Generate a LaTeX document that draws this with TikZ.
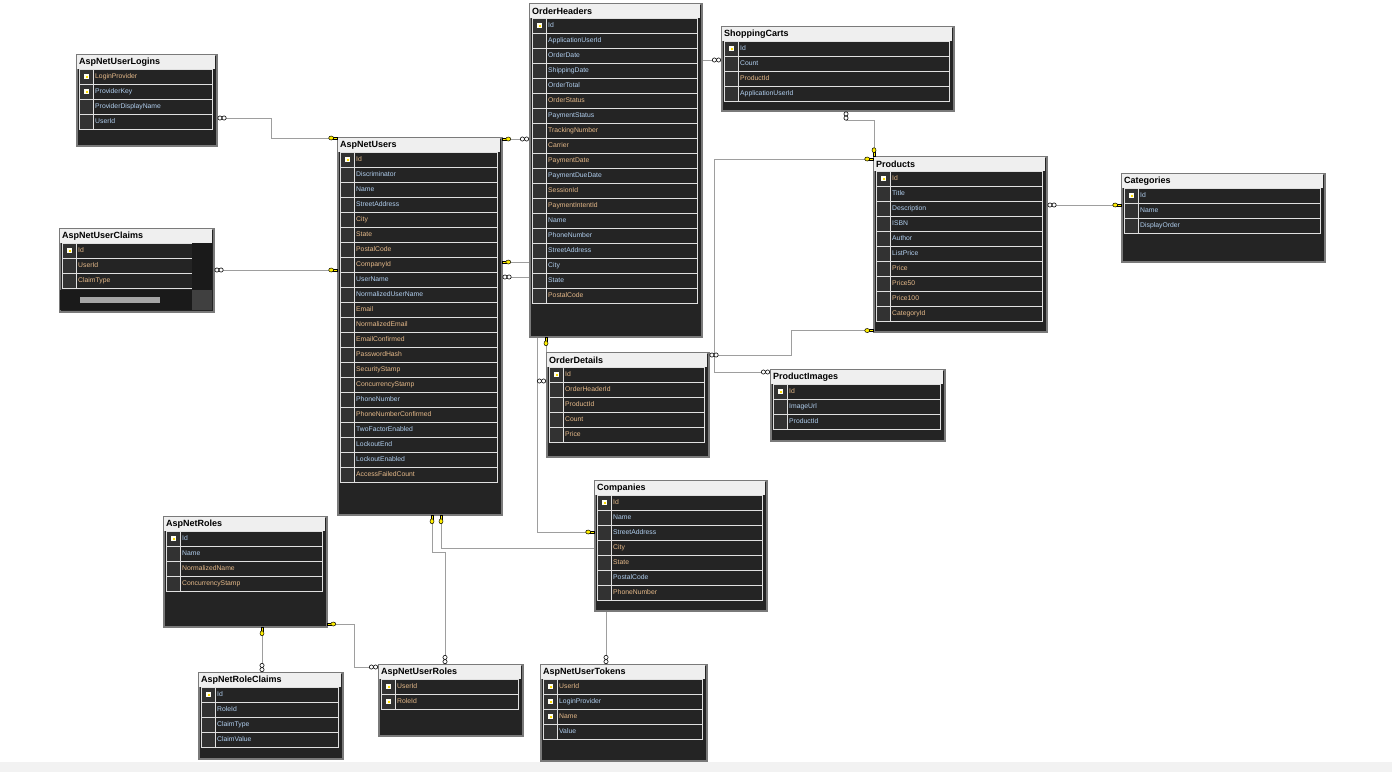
\documentclass[tikz,border=0pt]{standalone}
\usepackage{fontspec}
\setmainfont{Liberation Sans}
\usepackage{tikz}
\usetikzlibrary{calc, backgrounds}

\definecolor{framegray}{RGB}{122,122,122}
\definecolor{bodydark}{RGB}{36,36,36}
\definecolor{keycell}{RGB}{50,50,50}
\definecolor{titlebar}{RGB}{239,239,239}
\definecolor{connline}{RGB}{158,158,158}
\definecolor{fb}{RGB}{178,208,240}
\definecolor{fo}{RGB}{230,186,138}
\definecolor{keyyellow}{RGB}{255,238,0}
\definecolor{bandgray}{RGB}{242,242,242}
\definecolor{claimsdark}{RGB}{26,26,26}

% one database table: name, x, y, width, height, title, fields (name/pk/colour)
\newcommand{\dbtable}[7]{%
  \node[tablebox, minimum width=#4, minimum height=#5] (#1) at (#2,#3) {};
  \fill[titlebar] (#2+1,#3+1) rectangle (#2+#4-1,#3+15);
  \node[tabletitle] (#1-title) at (#2+3,#3+8) {#6};
  \foreach \fname/\fkey/\fcol [count=\i] in {#7} {
    \pgfmathsetmacro{\rtop}{#3+15+15*(\i-1)}
    \fill[keycell] (#2+3,\rtop) rectangle (#2+17,\rtop+15);
    \draw[rowgrid] (#2+3,\rtop) rectangle (#2+#4-4,\rtop+15);
    \draw[rowgrid] (#2+17,\rtop) -- (#2+17,\rtop+15);
    \ifnum\fkey=1
      \fill[pkicon] (#2+7.5,\rtop+5) rectangle (#2+12.5,\rtop+10);
      \fill[keyyellow!85!orange] (#2+10,\rtop+7) rectangle (#2+12,\rtop+9);
    \fi
    \node[fieldtext, text=\fcol] (#1-\i) at (#2+19,\rtop+7.5) {\fname};
  }
}

\begin{document}
\begin{tikzpicture}[
    x=1pt, y=-1pt,
    tablebox/.style={rectangle, anchor=north west, inner sep=0pt, draw=framegray, line width=1.5pt, fill=bodydark},
    tabletitle/.style={anchor=west, inner sep=0pt, text=black, font=\bfseries\fontsize{9}{10}\selectfont},
    fieldtext/.style={anchor=west, inner sep=0pt, font=\fontsize{6.8}{8}\selectfont},
    rowgrid/.style={draw=white!88!black, line width=0.8pt},
    pkicon/.style={fill=white!95!yellow},
    conn/.style={draw=connline, line width=1pt},
    keyend/.pic={
        \draw[black, line width=0.5pt, fill=keyyellow] (-3.6,-0.9) rectangle (0,0.9);
        \draw[black, line width=0.5pt, fill=keyyellow] (-5.8,0) ellipse (2.5 and 2);
    },
    manyend/.pic={
        \draw[black, line width=0.6pt, fill=white] (-2.4,0) circle (2.1);
        \draw[black, line width=0.6pt, fill=white] (-6.6,0) circle (2.1);
    }
]
    \useasboundingbox (0,0) rectangle (1392,772);

    % Tables
    \dbtable{logins}{76}{54}{140}{91}{AspNetUserLogins}{LoginProvider/1/fo, ProviderKey/1/fb, ProviderDisplayName/0/fb, UserId/0/fb}
    \dbtable{claims}{59}{228}{154}{83}{AspNetUserClaims}{Id/1/fo, UserId/0/fo, ClaimType/0/fo}
    \fill[claimsdark] (192,243) rectangle (212,290);
    \fill[claimsdark] (60,290) rectangle (192,310);
    \fill[black!75] (192,290) rectangle (212,310);
    \fill[black!35] (80,297) rectangle (160,303);
    \dbtable{users}{337}{137}{164}{377}{AspNetUsers}{Id/1/fo, Discriminator/0/fb, Name/0/fb, StreetAddress/0/fb, City/0/fo, State/0/fo, PostalCode/0/fo, CompanyId/0/fo, UserName/0/fb, NormalizedUserName/0/fb, Email/0/fo, NormalizedEmail/0/fo, EmailConfirmed/0/fo, PasswordHash/0/fo, SecurityStamp/0/fo, ConcurrencyStamp/0/fo, PhoneNumber/0/fb, PhoneNumberConfirmed/0/fo, TwoFactorEnabled/0/fb, LockoutEnd/0/fb, LockoutEnabled/0/fb, AccessFailedCount/0/fo}
    \dbtable{orders}{529}{3}{172}{333}{OrderHeaders}{Id/1/fb, ApplicationUserId/0/fb, OrderDate/0/fb, ShippingDate/0/fb, OrderTotal/0/fb, OrderStatus/0/fo, PaymentStatus/0/fb, TrackingNumber/0/fo, Carrier/0/fo, PaymentDate/0/fo, PaymentDueDate/0/fb, SessionId/0/fo, PaymentIntentId/0/fo, Name/0/fb, PhoneNumber/0/fb, StreetAddress/0/fb, City/0/fb, State/0/fb, PostalCode/0/fo}
    \dbtable{carts}{721}{26}{232}{84}{ShoppingCarts}{Id/1/fb, Count/0/fb, ProductId/0/fo, ApplicationUserId/0/fb}
    \dbtable{products}{873}{156}{173}{175}{Products}{Id/1/fo, Title/0/fb, Description/0/fb, ISBN/0/fb, Author/0/fb, ListPrice/0/fb, Price/0/fo, Price50/0/fo, Price100/0/fo, CategoryId/0/fo}
    \dbtable{categories}{1121}{173}{203}{88}{Categories}{Id/1/fb, Name/0/fb, DisplayOrder/0/fb}
    \dbtable{details}{546}{352}{162}{104}{OrderDetails}{Id/1/fo, OrderHeaderId/0/fo, ProductId/0/fo, Count/0/fo, Price/0/fo}
    \dbtable{images}{770}{369}{174}{71}{ProductImages}{Id/1/fo, ImageUrl/0/fb, ProductId/0/fb}
    \dbtable{companies}{594}{480}{172}{130}{Companies}{Id/1/fo, Name/0/fb, StreetAddress/0/fb, City/0/fo, State/0/fo, PostalCode/0/fb, PhoneNumber/0/fo}
    \dbtable{roles}{163}{516}{163}{110}{AspNetRoles}{Id/1/fb, Name/0/fb, NormalizedName/0/fo, ConcurrencyStamp/0/fo}
    \dbtable{roleclaims}{198}{672}{144}{86}{AspNetRoleClaims}{Id/1/fb, RoleId/0/fb, ClaimType/0/fb, ClaimValue/0/fb}
    \dbtable{userroles}{378}{664}{144}{71}{AspNetUserRoles}{UserId/1/fo, RoleId/1/fo}
    \dbtable{tokens}{540}{664}{166}{96}{AspNetUserTokens}{UserId/1/fo, LoginProvider/1/fb, Name/1/fo, Value/0/fb}

    % Connectors
    \begin{scope}[on background layer]
        \fill[bandgray] (0,762) rectangle (1392,772);
        \draw[conn] ([shift={(0,64)}]logins.north east) -- ++(54,0) |- ([shift={(0,1)}]users.north west);
        \draw[conn] ([shift={(0,42)}]claims.north east) -- ([shift={(0,133)}]users.north west);
        \draw[conn] ([shift={(0,2)}]users.north east) -- ([shift={(0,136)}]orders.north west);
        \draw[conn] ([shift={(0,125)}]users.north east) -- ++(114,0) |- ([shift={(0,34)}]carts.north west);
        \draw[conn] ([shift={(0,140)}]users.north east) -| ([shift={(-57,52)}]companies.north west) -- ([shift={(0,52)}]companies.north west);
        \draw[conn] ([shift={(17,0)}]orders.south west) -- ([shift={(0,29)}]details.north west);
        \draw[conn] ([shift={(125,0)}]carts.south west) -- ++(0,9) -| ([shift={(1,0)}]products.north west);
        \draw[conn] ([shift={(0,3)}]images.north west) -- ++(-56,0) |- ([shift={(0,3)}]products.north west);
        \draw[conn] ([shift={(0,3)}]details.north east) -- ++(82,0) |- ([shift={(0,-2)}]products.south west);
        \draw[conn] ([shift={(0,49)}]products.north east) -- ([shift={(0,32)}]categories.north west);
        \draw[conn] ([shift={(95,0)}]users.south west) -- ++(0,37) -| ([shift={(67,0)}]userroles.north west);
        \draw[conn] ([shift={(104,0)}]users.south west) -- ++(0,33) -| ([shift={(66,0)}]tokens.north west);
        \draw[conn] ([shift={(99,0)}]roles.south west) -- ([shift={(64,0)}]roleclaims.north west);
        \draw[conn] ([shift={(0,108)}]roles.north east) -- ++(27,0) |- ([shift={(0,3)}]userroles.north west);
    \end{scope}

    % Relationship ends
    \pic[rotate=180] at ([shift={(0,64)}]logins.north east) {manyend};
    \pic at ([shift={(0,1)}]users.north west) {keyend};
    \pic[rotate=180] at ([shift={(0,42)}]claims.north east) {manyend};
    \pic at ([shift={(0,133)}]users.north west) {keyend};
    \pic[rotate=180] at ([shift={(0,2)}]users.north east) {keyend};
    \pic at ([shift={(0,136)}]orders.north west) {manyend};
    \pic[rotate=180] at ([shift={(0,125)}]users.north east) {keyend};
    \pic at ([shift={(0,34)}]carts.north west) {manyend};
    \pic[rotate=180] at ([shift={(0,140)}]users.north east) {manyend};
    \pic at ([shift={(0,52)}]companies.north west) {keyend};
    \pic[rotate=90] at ([shift={(17,0)}]orders.south west) {keyend};
    \pic at ([shift={(0,29)}]details.north west) {manyend};
    \pic[rotate=90] at ([shift={(125,0)}]carts.south west) {manyend};
    \pic[rotate=-90] at ([shift={(1,0)}]products.north west) {keyend};
    \pic at ([shift={(0,3)}]images.north west) {manyend};
    \pic at ([shift={(0,3)}]products.north west) {keyend};
    \pic[rotate=180] at ([shift={(0,3)}]details.north east) {manyend};
    \pic at ([shift={(0,-2)}]products.south west) {keyend};
    \pic[rotate=180] at ([shift={(0,49)}]products.north east) {manyend};
    \pic at ([shift={(0,32)}]categories.north west) {keyend};
    \pic[rotate=90] at ([shift={(95,0)}]users.south west) {keyend};
    \pic[rotate=-90] at ([shift={(67,0)}]userroles.north west) {manyend};
    \pic[rotate=90] at ([shift={(104,0)}]users.south west) {keyend};
    \pic[rotate=-90] at ([shift={(66,0)}]tokens.north west) {manyend};
    \pic[rotate=90] at ([shift={(99,0)}]roles.south west) {keyend};
    \pic[rotate=-90] at ([shift={(64,0)}]roleclaims.north west) {manyend};
    \pic[rotate=180] at ([shift={(0,108)}]roles.north east) {keyend};
    \pic at ([shift={(0,3)}]userroles.north west) {manyend};
\end{tikzpicture}
\end{document}
